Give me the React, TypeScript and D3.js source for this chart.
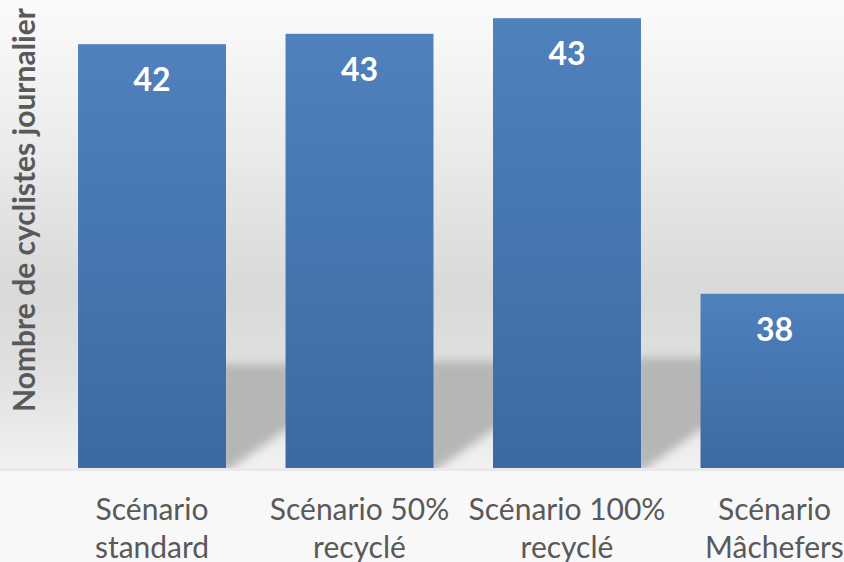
import React from "react";
import * as d3 from "d3";

const categories: string[][] = [
  ["Scénario", "standard"],
  ["Scénario 50%", "recyclé"],
  ["Scénario 100%", "recyclé"],
  ["Scénario", "Mâchefers"],
];
const values: number[] = [42.4, 42.6, 42.9, 37.6];
const yTitle = "Nombre de cyclistes journalier";
const yDomain: number[] = [34.25, 43.25];

const W = 844;
const H = 562;
const BASE = 468;

export default function App() {
  const keys = categories.map((c) => c.join(" "));
  const x = d3.scaleBand<string>().domain(keys).range([49, 877.5]).paddingInner(0.287).paddingOuter(0.14);
  const y = d3.scaleLinear().domain(yDomain).range([BASE, 0]);
  const fmt = d3.format(".0f");
  const bw = x.bandwidth();

  return (
    <svg width={W} height={H} style={{ position: "absolute", left: 0, top: 0, display: "block" }}>
      <defs>
        <linearGradient id="bg" x1="0" y1="0" x2="0" y2={BASE} gradientUnits="userSpaceOnUse">
          <stop offset="0" stopColor="#fbfbfb" />
          <stop offset="0.3" stopColor="#ececec" />
          <stop offset="0.62" stopColor="#d9d9d9" />
          <stop offset="0.8" stopColor="#e0e0e0" />
          <stop offset="1" stopColor="#f1f1f1" />
        </linearGradient>
        <linearGradient id="bar" x1="0" y1="0" x2="0" y2="1">
          <stop offset="0" stopColor="#4f81bd" />
          <stop offset="1" stopColor="#3c69a3" />
        </linearGradient>
        <filter id="blur" x="-20%" y="-20%" width="140%" height="140%">
          <feGaussianBlur stdDeviation="5" />
        </filter>
        <clipPath id="wall">
          <rect x={0} y={0} width={W} height={BASE} />
        </clipPath>
      </defs>
      <rect x={0} y={0} width={W} height={BASE} fill="url(#bg)" />
      <rect x={0} y={BASE} width={W} height={H - BASE} fill="#f8f8f8" />
      <rect x={0} y={BASE} width={W} height={3} fill="#e9e9e9" />
      <g clipPath="url(#wall)">
        {values.map((v, i) => {
          const xr = (x(keys[i]) as number) + bw;
          const h = BASE - y(v);
          const top = BASE - 0.245 * h;
          const ext = 170;
          const pts = [
            [xr - 6, BASE + 8],
            [xr - 6, top],
            [xr + ext, top],
            [xr + ext, BASE + 4 - 0.69 * (ext + 4)],
          ];
          return <polygon key={"s" + i} points={pts.map((p) => p.join(",")).join(" ")} fill="#b6b6b6" filter="url(#blur)" />;
        })}
      </g>
      {values.map((v, i) => (
        <rect key={"b" + i} x={x(keys[i])} y={y(v)} width={bw} height={BASE - y(v)} fill="url(#bar)" />
      ))}
      {values.map((v, i) => (
        <text
          key={"l" + i}
          x={(x(keys[i]) as number) + bw / 2}
          y={y(v) + 47}
          textAnchor="middle"
          fill="#ffffff"
          fontFamily="Lato, 'Open Sans', sans-serif"
          fontWeight="bold"
          fontSize={32}
        >
          {fmt(v)}
        </text>
      ))}
      {categories.map((lines, i) => (
        <text
          key={"c" + i}
          x={(x(keys[i]) as number) + bw / 2}
          textAnchor="middle"
          fill="#595959"
          fontFamily="Lato, 'Open Sans', sans-serif"
          fontSize={30}
        >
          {lines.map((t, j) => (
            <tspan key={j} x={(x(keys[i]) as number) + bw / 2} y={520 + j * 38}>
              {t}
            </tspan>
          ))}
        </text>
      ))}
      <text
        transform="translate(35,210) rotate(-90)"
        textAnchor="middle"
        fill="#595959"
        fontFamily="Lato, 'Open Sans', sans-serif"
        fontWeight="bold"
        fontSize={30}
      >
        {yTitle}
      </text>
    </svg>
  );
}
